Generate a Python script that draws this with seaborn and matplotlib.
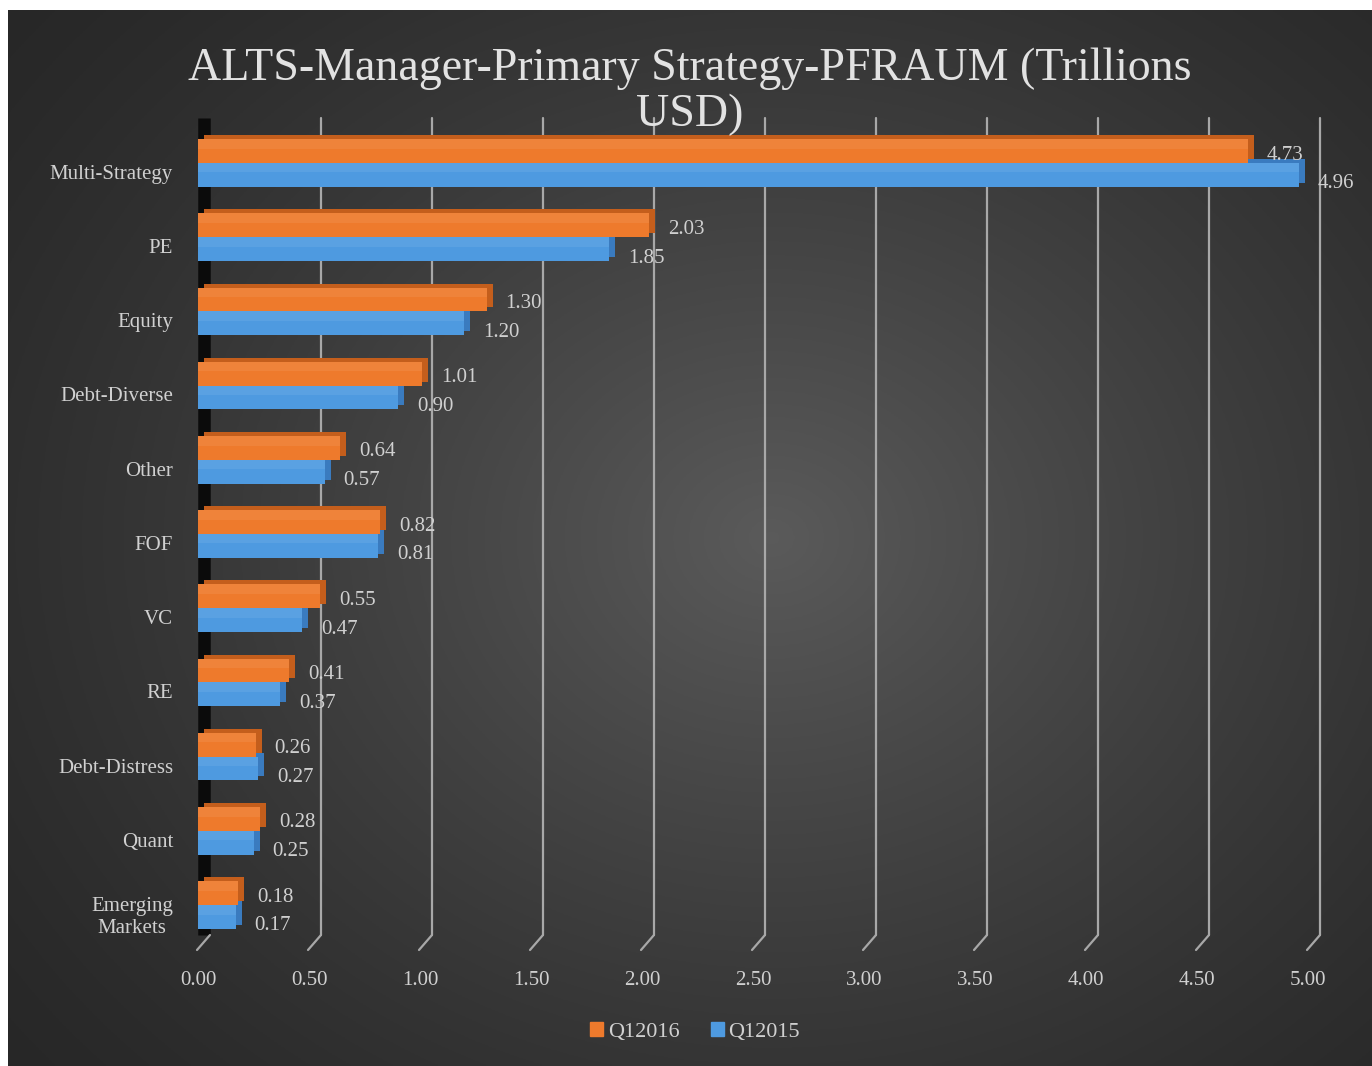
import numpy as np
import pandas as pd
import matplotlib
matplotlib.use("Agg")
import matplotlib.pyplot as plt
import seaborn as sns
from matplotlib.transforms import Affine2D
from matplotlib.patches import Patch

# data (trillions USD)
strategies = ["Multi-Strategy", "PE", "Equity", "Debt-Diverse", "Other", "FOF",
              "VC", "RE", "Debt-Distress", "Quant", "Emerging\nMarkets"]
q1_2016 = [4.73, 2.03, 1.30, 1.01, 0.64, 0.82, 0.55, 0.41, 0.26, 0.28, 0.18]
q1_2015 = [4.96, 1.85, 1.20, 0.90, 0.57, 0.81, 0.47, 0.37, 0.27, 0.25, 0.17]
periods = ["Q12016", "Q12015"]
x_ticks = [0.0, 0.5, 1.0, 1.5, 2.0, 2.5, 3.0, 3.5, 4.0, 4.5, 5.0]

orange = "#EE7A2C"
blue = "#4E9AE0"
orange_dark = "#C45E1C"
blue_dark = "#3A7BBF"
text_col = "#d0d0d0"
grid_col = "#a8a8a8"

df = pd.DataFrame({
    "strategy": strategies * 2,
    "value": q1_2016 + q1_2015,
    "period": [periods[0]] * len(strategies) + [periods[1]] * len(strategies),
})

sns.set_style("dark")
plt.rcParams["font.family"] = ["Liberation Serif", "DejaVu Serif"]

W, H = 1372, 1066
fig = plt.figure(figsize=(W / 100, H / 100), dpi=100, facecolor="white")

# dark radial background panel
bg = fig.add_axes([8 / W, 0, (W - 8) / W, (H - 10) / H], zorder=-5)
gx, gy = np.meshgrid(np.linspace(0, 1, 400), np.linspace(0, 1, 400))
r = np.sqrt(((gx - 0.56) / 0.72) ** 2 + ((gy - 0.50) / 0.78) ** 2)
shade = 0.155 + 0.20 * np.clip(1 - r, 0, 1) ** 1.3
bg.imshow(np.dstack([shade] * 3), extent=[0, 1, 0, 1], aspect="auto")
bg.set_axis_off()

left, right, top, bottom = 198, 1308, 118, 935
ax = fig.add_axes([left / W, 1 - bottom / H, (right - left) / W, (bottom - top) / H])
ax.set_facecolor("none")

# 3D depth faces, drawn behind and shifted up/right
sns.barplot(data=df, y="strategy", x="value", hue="period", orient="h",
            palette=[orange_dark, blue_dark], width=0.64, legend=False, ax=ax,
            saturation=1, edgecolor="none")
shift = Affine2D().translate(6, 4)
for p in list(ax.patches):
    p.set_transform(ax.transData + shift)

# front faces
sns.barplot(data=df, y="strategy", x="value", hue="period", orient="h",
            palette=[orange, blue], width=0.64, legend=False, ax=ax,
            saturation=1, edgecolor="none")
fronts = ax.containers[-2:]

# soft highlight on the upper part of each front face
for cont in fronts:
    for bar in cont:
        ax.barh(bar.get_y() + bar.get_height() * 0.2, bar.get_width(),
                height=bar.get_height() * 0.4, left=0, color="white", alpha=0.07,
                edgecolor="none")

ax.set_xlim(0, 5)
ax.set_ylim(10.404, -0.606)
ax.set_xlabel("")
ax.set_ylabel("")
for s in ax.spines.values():
    s.set_visible(False)
ax.grid(False)

# value labels
offsets = [-4, -9]
for cont, dy in zip(fronts, offsets):
    for bar in cont:
        v = bar.get_width()
        yc = bar.get_y() + bar.get_height() / 2
        ax.annotate(f"{v:.2f}", xy=(v, yc), xytext=(19, dy), textcoords="offset pixels",
                    ha="left", va="center", fontsize=15, color=text_col)

# back-plane gridlines with floor diagonals
xt = ax.get_xaxis_transform()
back = xt + Affine2D().translate(12, 0)
for v in x_ticks:
    if v > 0:
        ax.plot([v, v], [0, 1], transform=back, color=grid_col, lw=1.6, zorder=0.5,
                clip_on=False)
    ax.annotate("", xy=(v, 0), xycoords=xt + Affine2D().translate(-1, -15),
                xytext=(13, 15), textcoords="offset pixels",
                arrowprops=dict(arrowstyle="-", color=grid_col, lw=1.6,
                                shrinkA=0, shrinkB=0))
# left wall
ax.plot([0, 0], [0, 1], transform=xt + Affine2D().translate(6, 0), color="#0b0b0b",
        lw=9, zorder=0.4, clip_on=False, solid_capstyle="butt")

ax.set_xticks(x_ticks)
ax.set_xticklabels([f"{v:.2f}" for v in x_ticks])
ax.set_yticks(np.arange(len(strategies)) + 0.12)
ax.set_yticklabels(strategies, multialignment="center")
ax.tick_params(axis="x", length=0, pad=26, labelsize=15, colors=text_col)
ax.tick_params(axis="y", length=0, pad=18, labelsize=15, colors=text_col)

fig.text(690 / W, 1 - 92 / H, "ALTS-Manager-Primary Strategy-PFRAUM (Trillions\nUSD)",
         ha="center", va="center", fontsize=33, color="#e2e2e2", linespacing=1.1)

handles = [Patch(color=orange, label=periods[0]), Patch(color=blue, label=periods[1])]
fig.legend(handles=handles, loc="center", bbox_to_anchor=(695 / W, 1 - 1032 / H), ncol=2,
           frameon=False, fontsize=16, labelcolor=text_col, handlelength=0.6,
           handleheight=0.6, handletextpad=0.2, columnspacing=1.4)

fig.savefig("out.png", dpi=100, facecolor=fig.get_facecolor())
